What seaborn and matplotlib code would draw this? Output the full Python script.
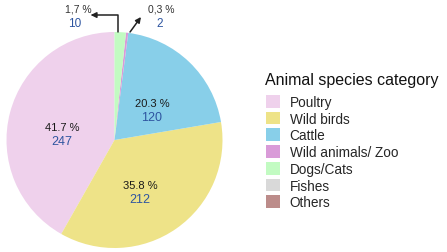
import matplotlib
matplotlib.use("Agg")
import matplotlib.pyplot as plt
import seaborn as sns

# data (legend order)
categories = ["Poultry", "Wild birds", "Cattle", "Wild animals/ Zoo", "Dogs/Cats", "Fishes", "Others"]
counts = [247, 212, 120, 2, 10, 0, 0]
pct_labels = ["41.7 %", "35.8 %", "20.3 %", "0,3 %", "1,7 %"]
colors = ["#EFD1EC", "#EEE388", "#88CFE9", "#D99BD8", "#C2FBC2", "#D9D9D9", "#BC8C8A"]

sns.set_theme(style="white")
plt.rcParams['font.family'] = ['Liberation Sans', 'DejaVu Sans']

fig = plt.figure(figsize=(4.47, 2.53), dpi=100)
R = 108
cx, cy = 114.5, 141
ax = fig.add_axes([(cx - R) / 447, (253 - cy - R) / 253, 2 * R / 447, 2 * R / 253])

wedges, _ = ax.pie(counts, colors=colors, startangle=90, counterclock=True,
                   wedgeprops=dict(linewidth=0))
ax.set_xlim(-1, 1)
ax.set_ylim(-1, 1)
ax.axis("off")

blue = "#2E55A0"
dark = "#1a1a1a"
# inside labels
inside = [(-0.486, 0.12, 0), (0.236, -0.417, 1), (0.347, 0.343, 2)]
for x, y, i in inside:
    ax.text(x, y, pct_labels[i], ha="center", va="center", fontsize=8, color=dark)
    ax.text(x, y - 0.128, str(counts[i]), ha="center", va="center", fontsize=9, color=blue)

# outside labels with arrows
ax.text(-0.46, 1.222, pct_labels[4], ha="left", va="center", fontsize=7.5, color="#333333")
ax.text(-0.43, 1.083, str(counts[4]), ha="left", va="center", fontsize=8.5, color=blue)
ax.annotate("", xy=(-0.22, 1.157), xytext=(0.032, 1.0), annotation_clip=False,
            arrowprops=dict(arrowstyle="-|>", color="#222222", lw=1.1, mutation_scale=8,
                            connectionstyle="angle,angleA=90,angleB=0,rad=0",
                            shrinkA=0, shrinkB=0))
ax.text(0.31, 1.222, pct_labels[3], ha="left", va="center", fontsize=7.5, color="#333333")
ax.text(0.39, 1.083, str(counts[3]), ha="left", va="center", fontsize=8.5, color=blue)
ax.annotate("", xy=(0.245, 1.139), xytext=(0.144, 1.0), annotation_clip=False,
            arrowprops=dict(arrowstyle="-|>", color="#222222", lw=1.1, mutation_scale=8,
                            shrinkA=0, shrinkB=0))

fig.text(265 / 447, 1 - 81 / 253, "Animal species category", ha="left", va="center",
         fontsize=11.5, color="#111111")
leg = fig.legend(wedges, categories,
                 loc="upper left", bbox_to_anchor=(266 / 447, 1 - 96 / 253),
                 frameon=False, fontsize=9.8,
                 handlelength=1.06, handleheight=1.06, handletextpad=0.68,
                 labelspacing=0.2, borderpad=0, borderaxespad=0)

fig.savefig("out.png", dpi=100)
